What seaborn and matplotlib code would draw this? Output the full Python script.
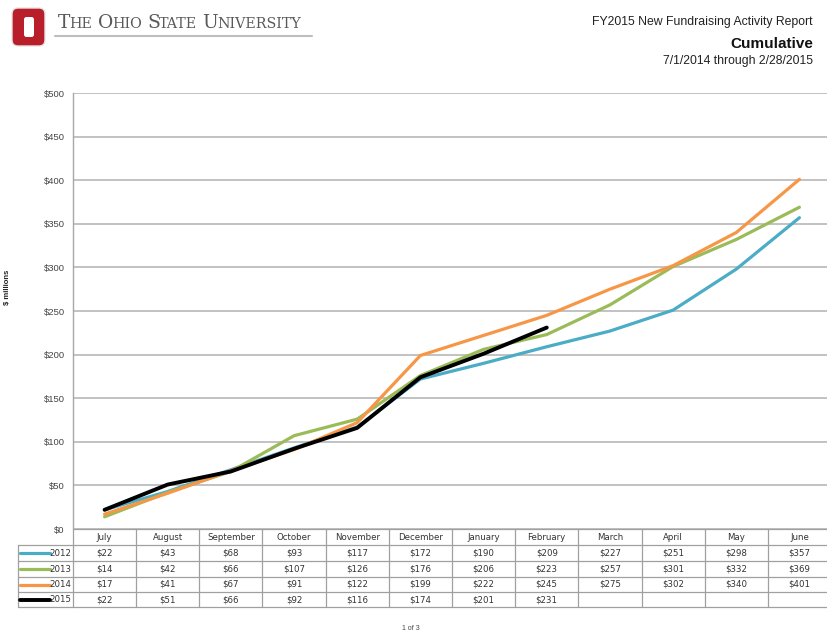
import matplotlib
matplotlib.use("Agg")
import matplotlib.pyplot as plt
import matplotlib.transforms as mtransforms
from matplotlib.patches import FancyBboxPatch
import seaborn as sns
import pandas as pd

# ---------------- data ----------------
months = ["July", "August", "September", "October", "November", "December",
          "January", "February", "March", "April", "May", "June"]
years = ["2012", "2013", "2014", "2015"]
v2012 = [22, 43, 68, 93, 117, 172, 190, 209, 227, 251, 298, 357]
v2013 = [14, 42, 66, 107, 126, 176, 206, 223, 257, 301, 332, 369]
v2014 = [17, 41, 67, 91, 122, 199, 222, 245, 275, 302, 340, 401]
v2015 = [22, 51, 66, 92, 116, 174, 201, 231]
series = {"2012": v2012, "2013": v2013, "2014": v2014, "2015": v2015}
colors = {"2012": "#4bacc6", "2013": "#9bbb59", "2014": "#f79646", "2015": "#000000"}
yticks = [0, 50, 100, 150, 200, 250, 300, 350, 400, 450, 500]

rows = []
for y in years:
    for i, v in enumerate(series[y]):
        rows.append({"year": y, "pos": i, "month": months[i], "value": v})
df = pd.DataFrame(rows)

# ---------------- figure ----------------
sns.set_style("white")
plt.rcParams["font.family"] = ["Liberation Sans", "DejaVu Sans"]

W, H = 828, 637
fig = plt.figure(figsize=(W / 100, H / 100), dpi=100)

def fx(px):
    return px / W

def fy(py):
    return 1 - py / H

ax_left, ax_right, ax_top, ax_bot = 73, 831, 93, 529
ax = fig.add_axes([fx(ax_left), fy(ax_bot), (ax_right - ax_left) / W, (ax_bot - ax_top) / H])

sns.lineplot(data=df, x="pos", y="value", hue="year", hue_order=years,
             palette=colors, linewidth=2.3, legend=False, ax=ax, zorder=3)
for ln in ax.lines:
    ln.set_solid_capstyle("round")
ax.lines[-1].set_linewidth(2.8)

ax.set_xlim(-0.5, len(months) - 0.5)
ax.set_ylim(0, 500)
ax.set_yticks(yticks)
ax.set_yticklabels([f"${t}" for t in yticks], fontsize=6.8, color="#444444")
ax.set_xticks([])
ax.set_xlabel("")
ax.set_ylabel("")
ax.tick_params(axis="y", length=0, pad=6)
ax.grid(axis="y", color="#bdbdbd", linewidth=1.3, zorder=0)
ax.set_axisbelow(True)
for s in ["top", "right", "bottom"]:
    ax.spines[s].set_visible(False)
ax.spines["left"].set_color("#a8a8a8")
ax.spines["left"].set_linewidth(1.0)

fig.text(fx(8), fy(287), "$ millions", rotation=90, fontsize=5.5,
         fontweight="bold", ha="center", va="center", color="#222222")

# ---------------- data table ----------------
tr = mtransforms.blended_transform_factory(ax.transData, fig.transFigure)
row_edges = [529, 545, 561, 577, 592, 607]
grid_c = "#a0a0a0"
tfont = ["DejaVu Sans"]
tsize = 6.2
n = len(months)
for r in row_edges:
    ax.plot([-0.5, n - 0.5], [fy(r), fy(r)], transform=tr, color=grid_c,
            lw=0.9, clip_on=False)
for i in range(n + 1):
    ax.plot([i - 0.5, i - 0.5], [fy(row_edges[0]), fy(row_edges[-1])],
            transform=tr, color=grid_c, lw=0.9, clip_on=False)
for i, m in enumerate(months):
    ax.text(i, fy((row_edges[0] + row_edges[1]) / 2), m, transform=tr,
            ha="center", va="center", fontsize=tsize, family=tfont,
            color="#333333", clip_on=False)
for j, y in enumerate(years):
    yc = fy((row_edges[j + 1] + row_edges[j + 2]) / 2)
    for i, v in enumerate(series[y]):
        ax.text(i, yc, f"${v}", transform=tr, ha="center", va="center",
                fontsize=tsize, family=tfont, color="#333333", clip_on=False)

# legend column (figure coords)
leg_l = 18
for k in range(1, len(row_edges)):
    fig.add_artist(plt.Line2D([fx(leg_l), fx(ax_left)], [fy(row_edges[k]), fy(row_edges[k])],
                              color=grid_c, lw=0.9))
fig.add_artist(plt.Line2D([fx(leg_l), fx(leg_l)], [fy(row_edges[1]), fy(row_edges[-1])],
                          color=grid_c, lw=0.9))
for j, y in enumerate(years):
    yc = fy((row_edges[j + 1] + row_edges[j + 2]) / 2)
    fig.add_artist(plt.Line2D([fx(20), fx(50)], [yc, yc], color=colors[y],
                              lw=2.8 if y == "2015" else 2.3))
    fig.text(fx(71), yc, y, ha="right", va="center", fontsize=tsize,
             family=tfont, color="#333333")

# ---------------- header ----------------
ov = fig.add_axes([0, 0, 1, 1], facecolor="none")
ov.set_xlim(0, W)
ov.set_ylim(H, 0)
ov.axis("off")

# block O logo
ov.add_patch(FancyBboxPatch((12, 8), 33, 38, boxstyle="round,pad=0,rounding_size=6",
                            facecolor="#b81f2a", edgecolor="#e6e6e6", lw=1.0))
ov.add_patch(FancyBboxPatch((24, 17), 10, 20, boxstyle="round,pad=0,rounding_size=2.5",
                            facecolor="white", edgecolor="none"))

# small caps wordmark
serif = ["DejaVu Serif", "Liberation Serif"]
words = ["The", "Ohio", "State", "University"]
prev = None
base_y = 28
gray = "#595959"
for w in words:
    for part, size in ((w[0].upper(), 13.4), (w[1:].upper(), 10.3)):
        if prev is None:
            t = ov.text(58, base_y, part, fontsize=size, family=serif, color=gray,
                        ha="left", va="baseline")
        else:
            gap = 3.8 if size > 11 else -0.6
            t = ov.annotate(part, xy=(1, base_y), xycoords=(prev, "data"),
                            xytext=(gap, 0), textcoords="offset points",
                            fontsize=size, family=serif, color=gray,
                            ha="left", va="baseline")
        prev = t
ov.plot([55, 312], [36, 36], color="#bdbdbd", lw=1.5)

ov.text(813, 22, "FY2015 New Fundraising Activity Report", fontsize=8.8,
        ha="right", va="center", color="#222222")
ov.text(813, 44, "Cumulative", fontsize=11, fontweight="bold",
        ha="right", va="center", color="#111111")
ov.text(813, 61, "7/1/2014 through 2/28/2015", fontsize=8.8,
        ha="right", va="center", color="#222222")

ov.text(411, 629, "1 of 3", fontsize=5, ha="center", va="center", color="#444444")

fig.savefig("out.png", dpi=100)
